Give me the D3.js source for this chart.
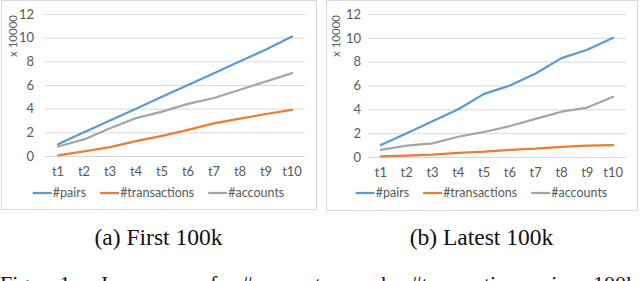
<!DOCTYPE html>
<html>
<head>
<meta charset="utf-8">
<script src="https://cdn.jsdelivr.net/npm/d3@7"></script>
<style>
  body { margin: 0; background: #fff; }
  svg { display: block; }
</style>
</head>
<body>
<div id="chart"></div>
<script>
// data (values in units of 10000)
const periods = ["t1", "t2", "t3", "t4", "t5", "t6", "t7", "t8", "t9", "t10"];
const seriesNames = ["#pairs", "#transactions", "#accounts"];
const yTicks = [0, 2, 4, 6, 8, 10, 12];

const firstPairs = [1, 2, 3, 4, 5, 6, 7, 8, 9, 10.1];
const firstTransactions = [0.05, 0.4, 0.75, 1.25, 1.7, 2.2, 2.75, 3.15, 3.55, 3.9];
const firstAccounts = [0.8, 1.4, 2.35, 3.2, 3.75, 4.4, 4.9, 5.6, 6.3, 7.0];

const latestPairs = [1, 2, 3, 4, 5.3, 6, 7, 8.3, 9, 10];
const latestTransactions = [0.05, 0.12, 0.2, 0.35, 0.45, 0.6, 0.7, 0.85, 0.95, 1.0];
const latestAccounts = [0.6, 0.95, 1.15, 1.7, 2.1, 2.6, 3.2, 3.8, 4.15, 5.05];

const captions = ["(a) First 100k", "(b) Latest 100k"];
const figWords = ["Fig.", "1:", "Increase", "of", "#accounts", "and", "#transactions", "in", "100k"];

const width = 640, height = 281;
const colors = ["#5B9BD5", "#ED7D31", "#A5A5A5"];
const tickFont = "Lato, 'Open Sans', sans-serif";
const serif = "'Liberation Serif', serif";

const svg = d3.select("#chart")
    .append("svg")
    .attr("width", width)
    .attr("height", height);

// one box per panel
const panels = [
    {box: [1, 0, 315, 209], x0: 45, x1: 305, yTop: 14, yBot: 156, labelGap: 11, unitX: 13,
     values: [firstPairs, firstTransactions, firstAccounts], caption: captions[0]},
    {box: [326, 0, 311, 210], x0: 368, x1: 626, yTop: 14, yBot: 157, labelGap: 7, unitX: 336,
     values: [latestPairs, latestTransactions, latestAccounts], caption: captions[1]}
];

panels.forEach(p => {
    const g = svg.append("g");

    g.append("rect")
        .attr("x", p.box[0] + 0.5)
        .attr("y", p.box[1] + 0.5)
        .attr("width", p.box[2])
        .attr("height", p.box[3])
        .attr("fill", "#fff")
        .attr("stroke", "#d9d9d9")
        .attr("stroke-width", 1);

    const x = d3.scaleBand()
        .domain(periods)
        .range([p.x0, p.x1]);

    const y = d3.scaleLinear()
        .domain([0, 12])
        .range([p.yBot, p.yTop]);

    // gridlines + y labels
    const yAxis = d3.axisLeft(y)
        .tickValues(yTicks)
        .tickSize(-(p.x1 - p.x0))
        .tickPadding(p.labelGap);

    const ya = g.append("g")
        .attr("transform", `translate(${p.x0},0)`)
        .call(yAxis);
    ya.select(".domain").remove();
    ya.selectAll(".tick line")
        .attr("stroke", "#d9d9d9")
        .attr("stroke-width", 1);
    ya.selectAll(".tick text")
        .attr("fill", "#595959")
        .style("font-family", tickFont)
        .style("font-size", "13px");

    // x labels
    const xa = g.append("g")
        .attr("transform", `translate(0,${p.yBot})`)
        .call(d3.axisBottom(x).tickSize(0).tickPadding(11));
    xa.select(".domain").remove();
    xa.selectAll(".tick text")
        .attr("fill", "#595959")
        .style("font-family", tickFont)
        .style("font-size", "13px");

    // unit label
    g.append("text")
        .attr("transform", `translate(${p.unitX + 4},${36}) rotate(-90)`)
        .attr("text-anchor", "middle")
        .attr("fill", "#595959")
        .style("font-family", tickFont)
        .style("font-size", "11.5px")
        .text("x 10000");

    const line = d3.line()
        .x((d, i) => x(periods[i]) + x.bandwidth() / 2)
        .y(d => y(d));

    p.values.forEach((vals, i) => {
        g.append("path")
            .datum(vals)
            .attr("d", line)
            .attr("fill", "none")
            .attr("stroke", colors[i])
            .attr("stroke-width", 2.25)
            .attr("stroke-linejoin", "round")
            .attr("stroke-linecap", "round");
    });

    // legend, centered in the box
    const legend = g.append("g");
    let cursor = 0;
    seriesNames.forEach((name, i) => {
        legend.append("line")
            .attr("x1", cursor)
            .attr("x2", cursor + 19)
            .attr("y1", 0)
            .attr("y2", 0)
            .attr("stroke", colors[i])
            .attr("stroke-width", 2.25);
        const t = legend.append("text")
            .attr("x", cursor + 20)
            .attr("y", 0)
            .attr("dy", "0.35em")
            .attr("fill", "#595959")
            .style("font-family", tickFont)
            .style("font-size", "12.5px")
            .text(name);
        cursor += 20 + t.node().getComputedTextLength() + 14;
    });
    const legendW = cursor - 14;
    legend.attr("transform", `translate(${p.box[0] + p.box[2] / 2 - legendW / 2},193)`);

    // panel caption
    svg.append("text")
        .attr("x", p.box[0] + p.box[2] / 2)
        .attr("y", 245)
        .attr("text-anchor", "middle")
        .attr("fill", "#111")
        .style("font-family", serif)
        .style("font-size", "23.5px")
        .text(p.caption);
});

// figure caption, justified wide and clipped by the bottom edge
const fig = svg.append("text")
    .attr("x", 0)
    .attr("y", 291)
    .attr("fill", "#111")
    .style("font-family", serif)
    .style("font-size", "22px");
let fx = 0;
const wordW = figWords.map(w => {
    const t = fig.append("tspan").text(w);
    const wd = t.node().getComputedTextLength();
    t.remove();
    return wd;
});
const gap = (593 - d3.sum(wordW.slice(0, -1))) / (figWords.length - 1);
figWords.forEach((w, i) => {
    fig.append("tspan").attr("x", fx).text(w);
    fx += wordW[i] + gap;
});
</script>
</body>
</html>
